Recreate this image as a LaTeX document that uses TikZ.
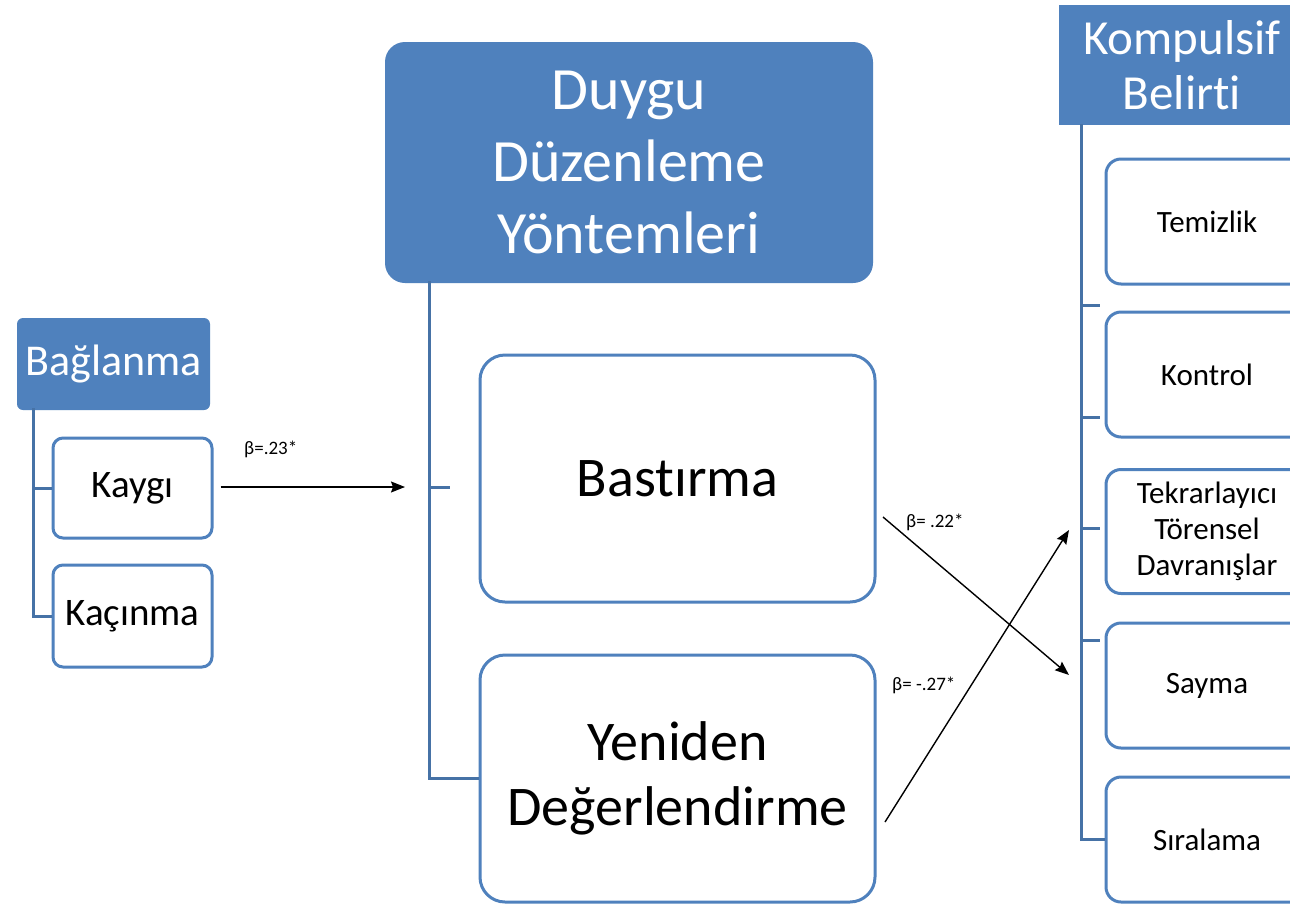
\documentclass[tikz,border=0pt]{standalone}
\usepackage{fontspec}
\setmainfont{Carlito}[Ligatures={NoCommon}]
\usetikzlibrary{arrows.meta,calc}
\definecolor{hblue}{RGB}{79,129,189}
\definecolor{lblue}{RGB}{70,114,166}
\newcommand{\fs}[2]{\fontsize{#1}{#2}\selectfont}
\tikzset{
  head/.style={fill=hblue, text=white, inner sep=0pt, align=center},
  leaf/.style={draw=hblue, line width=3pt, fill=white, inner sep=0pt, align=center, text=black},
  conn/.style={draw=lblue, line width=3pt},
  arr/.style={draw=black, line width=1.4pt, -{Stealth[length=14pt,width=11pt,inset=2pt]}},
  lab/.style={inner sep=0pt, font=\fs{19}{22}},
}
\begin{document}
\begin{tikzpicture}[x=1pt,y=-1pt]
\useasboundingbox (0,0) rectangle (1290,903);
\clip (0,0) rectangle (1290,903);
\fill[white] (0,0) rectangle (1290,903);

% left group
\node[head, rounded corners=6pt, minimum width=193pt, minimum height=92pt, font=\fs{44}{50}] (bag) at (113.5,364) {Bağlanma};
\node[leaf, rounded corners=10pt, minimum width=159pt, minimum height=100pt, font=\fs{39}{46}] (kaygi) at (132.5,488) {Kaygı};
\node[leaf, rounded corners=10pt, minimum width=159pt, minimum height=102pt, font=\fs{39}{46}] (kacinma) at (132.5,616) {Kaçınma};
\coordinate (bl) at ($(bag.south west)+(17,-2)$);
\draw[conn] (bl) |- (kacinma.west);
\draw[conn] (bl |- kaygi.west) -- (kaygi.west);

% middle group
\node[head, rounded corners=20pt, minimum width=488pt, minimum height=241pt, font=\fs{60}{72}] (duygu) at (629,162.5) {Duygu\\Düzenleme\\Yöntemleri};
\node[leaf, rounded corners=25pt, minimum width=395pt, minimum height=247pt, font=\fs{56}{65}] (bast) at (677.5,478.5) {Bastırma};
\node[leaf, rounded corners=25pt, minimum width=395pt, minimum height=247pt, font=\fs{56}{65}] (yen) at (677.5,778.5) {Yeniden\\Değerlendirme};
\coordinate (hub) at ($(duygu.south west)+(45,-2)$);
\draw[conn] (hub) |- (yen.west);
\coordinate (a1e) at (405,487);
\draw[conn] (hub |- a1e) -- ++(20,0);

% right group
\node[head, minimum width=246pt, minimum height=120pt, font=\fs{49}{55}] (komp) at (1182,65) {Kompulsif\\Belirti};
\node[leaf, rounded corners=15pt, minimum width=202pt, minimum height=125pt, font=\fs{31}{36}] (tem) at (1207,221.5) {Temizlik};
\node[leaf, rounded corners=15pt, minimum width=202pt, minimum height=125pt, font=\fs{31}{36}] (kon) at (1207,374.5) {Kontrol};
\node[leaf, rounded corners=15pt, minimum width=202pt, minimum height=124pt, font=\fs{31}{36}] (tek) at (1207,531.5) {Tekrarlayıcı\\Törensel\\Davranışlar};
\node[leaf, rounded corners=15pt, minimum width=202pt, minimum height=125pt, font=\fs{31}{36}] (say) at (1207,685.5) {Sayma};
\node[leaf, rounded corners=15pt, minimum width=202pt, minimum height=125pt, font=\fs{31}{36}] (sir) at (1207,839.5) {Sıralama};
\coordinate (rtop) at ($(komp.south west)+(23,-1)$);
\draw[conn] (rtop) |- (sir.west);
\foreach \yy in {305,417,528,640} {
  \coordinate (tmp) at (0,\yy);
  \draw[conn] (rtop |- tmp) -- ++(18,0);
}

% arrows
\draw[arr] ($(kaygi.east)+(7,-1)$) -- (a1e);
\node[lab, anchor=south west] (l1) at (244,458) {β=.23*};

\coordinate (a2s) at (883,517);
\coordinate (a2e) at (1069,675);
\draw[arr] (a2s) -- (a2e);
\node[lab, anchor=south west] (l2) at (906,531) {β= .22*};

\coordinate (a3s) at (885,822);
\coordinate (a3e) at (1069,530);
\draw[arr] (a3s) -- (a3e);
\node[lab, anchor=south west] (l3) at (892,694) {β= -.27*};
\end{tikzpicture}
\end{document}
